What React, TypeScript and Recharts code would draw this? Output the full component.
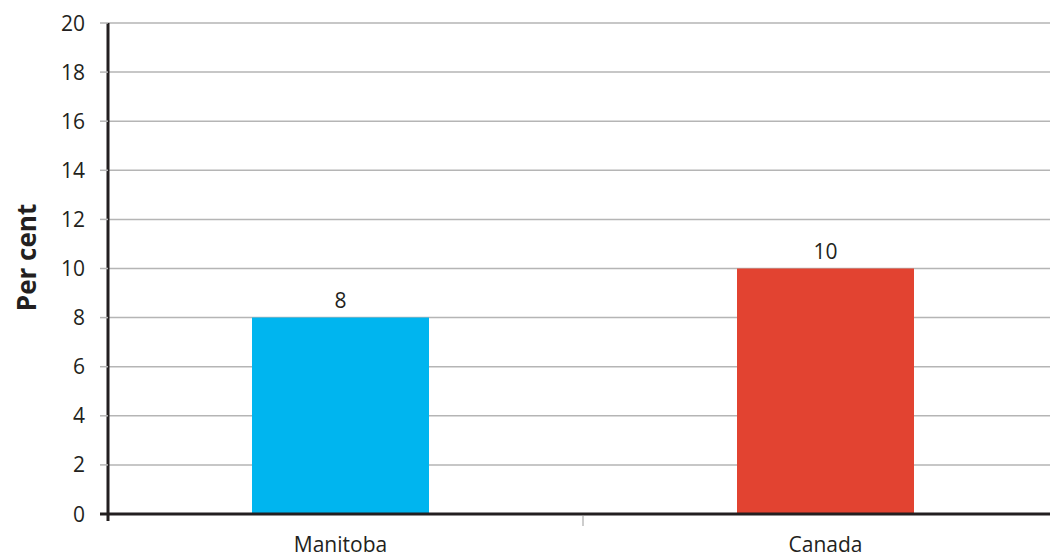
import React from 'react';
import { BarChart, Bar, XAxis, YAxis, CartesianGrid, Cell, LabelList, Label } from 'recharts';

const categories = ['Manitoba', 'Canada'];
const values = [8, 10];
const colors = ['#00b5ef', '#e24331'];
const yTicks = [0, 2, 4, 6, 8, 10, 12, 14, 16, 18, 20];
const xTicks = [0.5, 1, 1.5];
const yTitle = 'Per cent';

const data = categories.map((name, i) => ({ name, pos: i + 0.5, value: values[i] }));

const FONT = '"Open Sans", Lato, sans-serif';
const DARK = '#231f20';
const GRID = '#b5b5b5';

const XTick = (props: any) => {
  const { x, y, payload } = props;
  const v = payload.value;
  if (v === 1) {
    return <line x1={x} x2={x} y1={y + 2} y2={y + 12} stroke="#bdbdbd" strokeWidth={1.5} />;
  }
  const idx = Math.floor(v);
  return (
    <text x={x} y={y + 38} textAnchor="middle" fontFamily={FONT} fontSize={21} fill={DARK}>
      {categories[idx]}
    </text>
  );
};

const YTick = (props: any) => {
  const { x, y, payload } = props;
  const v = payload.value;
  const isZero = v === 0;
  return (
    <g>
      <line x1={x - 8} x2={x} y1={y} y2={y} stroke={isZero ? DARK : GRID} strokeWidth={isZero ? 3 : 1.5} />
      {isZero && <line x1={x} x2={x} y1={y} y2={y + 7} stroke={DARK} strokeWidth={3} />}
      <text x={x - 23} y={y} dy="0.36em" textAnchor="end" fontFamily={FONT} fontSize={21} fill={DARK}>
        {v}
      </text>
    </g>
  );
};

const YTitle = (props: any) => {
  const vb = props.viewBox || {};
  const cx = 26;
  const cy = vb.y + vb.height / 2 - 11;
  return (
    <text
      x={cx}
      y={cy}
      transform={`rotate(-90, ${cx}, ${cy})`}
      textAnchor="middle"
      dominantBaseline="central"
      fontFamily={FONT}
      fontSize={26}
      fontWeight={700}
      fill={DARK}
    >
      {yTitle}
    </text>
  );
};

export default function App() {
  return (
    <div style={{ position: 'absolute', left: 0, top: 0, width: 1050, height: 558, overflow: 'hidden', background: '#fff' }}>
      <BarChart width={1050} height={558} data={data} margin={{ top: 23, right: 0, left: 0, bottom: 0 }}>
        <CartesianGrid horizontal vertical={false} stroke={GRID} strokeWidth={1.5} />
        <XAxis
          dataKey="pos"
          type="number"
          domain={[0, 2]}
          ticks={xTicks}
          padding={{ left: -10, right: -18 }}
          tick={<XTick />}
          tickLine={false}
          tickSize={0}
          tickMargin={0}
          height={44}
          axisLine={{ stroke: DARK, strokeWidth: 3 }}
          interval={0}
        />
        <YAxis
          domain={[0, 20]}
          ticks={yTicks}
          width={108}
          tickSize={0}
          tickMargin={0}
          tickLine={false}
          axisLine={{ stroke: DARK, strokeWidth: 3 }}
          tick={<YTick />}
          interval={0}
        >
          <Label content={<YTitle />} />
        </YAxis>
        <Bar dataKey="value" barSize={177} isAnimationActive={false}>
          {data.map((d, i) => (
            <Cell key={d.name} fill={colors[i]} />
          ))}
          <LabelList
            dataKey="value"
            position="top"
            offset={10}
            style={{ fontFamily: FONT, fontSize: 21, fill: DARK }}
          />
        </Bar>
      </BarChart>
    </div>
  );
}
